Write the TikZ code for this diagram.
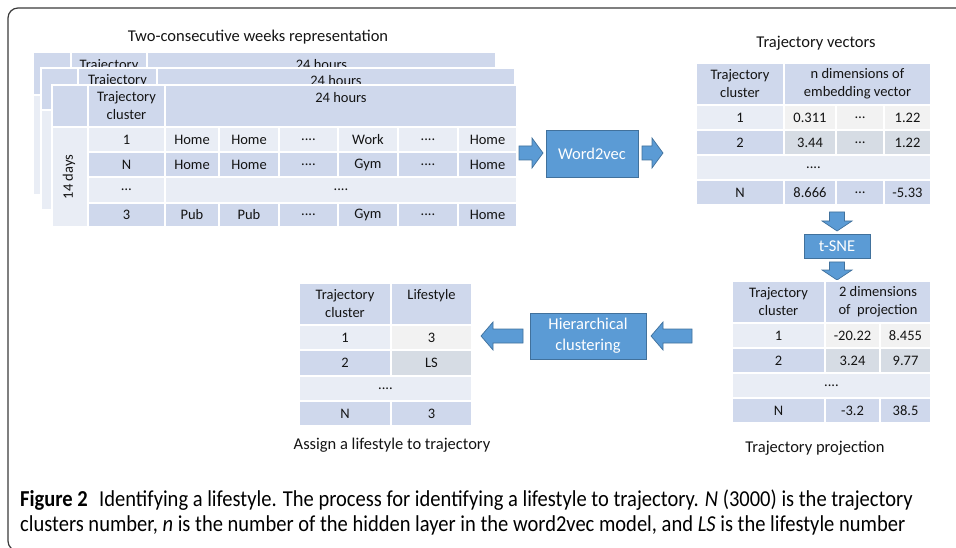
\documentclass[tikz,border=0pt]{standalone}
\usepackage{fontspec}
\setmainfont{Carlito}
\newfontfamily\capfont[FakeStretch=0.9]{Carlito}

\definecolor{bandD}{HTML}{CFD8EC}
\definecolor{bandL}{HTML}{E9EDF5}
\definecolor{grayL}{HTML}{F2F2F2}
\definecolor{grayD}{HTML}{D6DCE4}
\definecolor{boxblue}{HTML}{5B9BD5}
\definecolor{boxline}{HTML}{41719C}
\definecolor{ink}{HTML}{141414}
\definecolor{framec}{HTML}{3A3A3A}

\tikzset{
  celltext/.style={inner sep=0pt, align=center, text=ink,
    font=\fontsize{14.5}{18}\selectfont},
  titletext/.style={inner sep=0pt, text=ink, font=\fontsize{16.5}{20}\selectfont},
  procbox/.style={fill=boxblue, draw=boxline, line width=0.8pt},
  proctext/.style={inner sep=0pt, align=center, text=white,
    font=\fontsize{16.5}{21}\selectfont},
  blockarrow/.style={fill=boxblue, draw=boxline, line width=0.7pt, line join=miter},
  captext/.style={inner sep=0pt, anchor=base west, text=black,
    font=\capfont\fontsize{22.8}{26}\selectfont},
}

% table cell: name, fill, x1, y1, x2, y2, text (centred)
\newcommand\tcell[7]{%
  \filldraw[fill=#2, draw=white, line width=1.4pt] (#3,#4) rectangle (#5,#6);
  \node[celltext] (#1) at ({(#3+#5)/2},{(#4+#6)/2}) {#7};}
% table cell with its single line of text on the first line
\newcommand\tcelltop[7]{%
  \filldraw[fill=#2, draw=white, line width=1.4pt] (#3,#4) rectangle (#5,#6);
  \node[celltext] (#1) at ({(#3+#5)/2},{#4+12.5}) {#7};}

% block arrows: start, tip, centre line
\newcommand\arrowR[3]{%
  \filldraw[blockarrow] (#1,{#3-7}) -- ({#2-11},{#3-7}) -- ({#2-11},{#3-15}) -- (#2,#3)
    -- ({#2-11},{#3+15}) -- ({#2-11},{#3+7}) -- (#1,{#3+7}) -- cycle;}
\newcommand\arrowL[3]{%
  \filldraw[blockarrow] (#1,{#3-7}) -- ({#2+12},{#3-7}) -- ({#2+12},{#3-14}) -- (#2,#3)
    -- ({#2+12},{#3+14}) -- ({#2+12},{#3+7}) -- (#1,{#3+7}) -- cycle;}
\newcommand\arrowD[3]{%
  \filldraw[blockarrow] ({#3-7.5},#1) -- ({#3-7.5},{#2-10}) -- ({#3-15},{#2-10}) -- (#3,#2)
    -- ({#3+15},{#2-10}) -- ({#3+7.5},{#2-10}) -- ({#3+7.5},#1) -- cycle;}

% a stacked copy of the weekly table (header and blank body)
\newcommand\backtable[8]{% prefix, x1, x2, x3, x4, ytop, yhead, ybot
  \tcell{#1corner}{bandD}{#2}{#6}{#3}{#7}{}
  \tcell{#1clh}{bandD}{#3}{#6}{#4}{#7}{Trajectory\\cluster}
  \tcelltop{#1hrs}{bandD}{#4}{#6}{#5}{#7}{24 hours}
  \tcell{#1days}{bandL}{#2}{#7}{#3}{#8}{}
  \tcell{#1body}{bandL}{#3}{#7}{#5}{#8}{}}

\begin{document}
\begin{tikzpicture}[x=1pt, y=-1pt]
\useasboundingbox (0,0) rectangle (956,548);

% frame of the figure
\draw[framec, line width=1.2pt, rounded corners=10pt]
  (970,8) -- (8,8) -- (8,551) -- (40,551);

% ---------- two-consecutive weeks tables ----------
\node[titletext] (weekstitle) at (258,37) {Two-consecutive weeks representation};

\backtable{b}{33}{71}{147}{496}{52}{95}{195}
\backtable{m}{41}{78}{157}{515}{68}{110}{210}

% front table
\tcell{fcorner}{bandD}{52}{85}{88}{127}{}
\tcell{fclh}{bandD}{88}{85}{165}{127}{Trajectory\\cluster}
\tcelltop{fhrs}{bandD}{165}{85}{517}{127}{24 hours}
\filldraw[fill=bandL, draw=white, line width=1.4pt] (52,127) rectangle (88,227);
\node[celltext, rotate=90] (fdays) at (69,177) {14 days};

% row 1
\tcell{fa0}{bandL}{88}{127}{165}{152}{1}
\tcell{fa1}{bandL}{165}{127}{219}{152}{Home}
\tcell{fa2}{bandL}{219}{127}{279}{152}{Home}
\tcell{fa3}{bandL}{279}{127}{338}{152}{....}
\tcell{fa4}{bandL}{338}{127}{398}{152}{Work}
\tcell{fa5}{bandL}{398}{127}{458}{152}{....}
\tcell{fa6}{bandL}{458}{127}{517}{152}{Home}
% row 2
\tcell{fb0}{bandD}{88}{152}{165}{177}{N}
\tcell{fb1}{bandD}{165}{152}{219}{177}{Home}
\tcell{fb2}{bandD}{219}{152}{279}{177}{Home}
\tcell{fb3}{bandD}{279}{152}{338}{177}{....}
\tcell{fb4}{bandD}{338}{152}{398}{177}{Gym}
\tcell{fb5}{bandD}{398}{152}{458}{177}{....}
\tcell{fb6}{bandD}{458}{152}{517}{177}{Home}
% row 3
\tcell{fc0}{bandL}{88}{177}{165}{203}{…}
\tcell{fc1}{bandL}{165}{177}{517}{203}{....}
% row 4
\tcell{fd0}{bandD}{88}{203}{165}{227}{3}
\tcell{fd1}{bandD}{165}{203}{219}{227}{Pub}
\tcell{fd2}{bandD}{219}{203}{279}{227}{Pub}
\tcell{fd3}{bandD}{279}{203}{338}{227}{....}
\tcell{fd4}{bandD}{338}{203}{398}{227}{Gym}
\tcell{fd5}{bandD}{398}{203}{458}{227}{....}
\tcell{fd6}{bandD}{458}{203}{517}{227}{Home}

% ---------- word2vec ----------
\arrowR{519}{543}{153}
\filldraw[procbox] (546,130) rectangle (638,177);
\node[proctext] (w2v) at (592,153.5) {Word2vec};
\arrowR{642}{663}{153}

% ---------- trajectory vectors ----------
\node[titletext] (vectitle) at (816,43) {Trajectory vectors};
\tcell{vh0}{bandD}{696}{63}{784}{105}{Trajectory\\cluster}
\tcell{vh1}{bandD}{784}{63}{931}{105}{n dimensions of\\embedding vector}
\tcell{va0}{bandL}{696}{105}{784}{130}{1}
\tcell{va1}{grayL}{784}{105}{836}{130}{0.311}
\tcell{va2}{grayL}{836}{105}{884}{130}{…}
\tcell{va3}{grayL}{884}{105}{931}{130}{1.22}
\tcell{vb0}{bandD}{696}{130}{784}{155}{2}
\tcell{vb1}{grayD}{784}{130}{836}{155}{3.44}
\tcell{vb2}{grayD}{836}{130}{884}{155}{…}
\tcell{vb3}{grayD}{884}{130}{931}{155}{1.22}
\tcell{vc0}{bandL}{696}{155}{931}{180}{....}
\tcell{vd0}{bandD}{696}{180}{784}{205}{N}
\tcell{vd1}{bandD}{784}{180}{836}{205}{8.666}
\tcell{vd2}{bandD}{836}{180}{884}{205}{…}
\tcell{vd3}{bandD}{884}{180}{931}{205}{-5.33}

% ---------- t-SNE ----------
\arrowD{212}{231}{837}
\filldraw[procbox] (804,234) rectangle (870,258);
\node[proctext] (tsne) at (837,246) {t-SNE};
\arrowD{262}{280}{837}

% ---------- trajectory projection ----------
\tcell{ph0}{bandD}{732}{281}{825}{323}{Trajectory\\cluster}
\tcell{ph1}{bandD}{825}{281}{931}{323}{2 dimensions\\of~ projection}
\tcell{pa0}{bandL}{732}{323}{825}{348}{1}
\tcell{pa1}{grayL}{825}{323}{880}{348}{-20.22}
\tcell{pa2}{grayL}{880}{323}{931}{348}{8.455}
\tcell{pb0}{bandD}{732}{348}{825}{373}{2}
\tcell{pb1}{grayD}{825}{348}{880}{373}{3.24}
\tcell{pb2}{grayD}{880}{348}{931}{373}{9.77}
\tcell{pc0}{bandL}{732}{373}{931}{398}{....}
\tcell{pd0}{bandD}{732}{398}{825}{423}{N}
\tcell{pd1}{bandD}{825}{398}{880}{423}{-3.2}
\tcell{pd2}{bandD}{880}{398}{931}{423}{38.5}
\node[titletext] (projtitle) at (815,448) {Trajectory projection};

% ---------- hierarchical clustering ----------
\arrowL{692}{651}{336}
\filldraw[procbox] (530,313) rectangle (646,359);
\node[proctext] (hclust) at (588,336) {Hierarchical\\clustering};
\arrowL{523}{481}{336}

% ---------- lifestyle assignment ----------
\tcell{lh0}{bandD}{299}{283}{391}{325}{Trajectory\\cluster}
\tcelltop{lh1}{bandD}{391}{283}{472}{325}{Lifestyle}
\tcell{la0}{bandL}{299}{325}{391}{350}{1}
\tcell{la1}{grayL}{391}{325}{472}{350}{3}
\tcell{lb0}{bandD}{299}{350}{391}{376}{2}
\tcell{lb1}{grayD}{391}{350}{472}{376}{LS}
\tcell{lc0}{bandL}{299}{376}{472}{401}{....}
\tcell{ld0}{bandD}{299}{401}{391}{426}{N}
\tcell{ld1}{bandD}{391}{401}{472}{426}{3}
\node[titletext] (lstitle) at (392,445) {Assign a lifestyle to trajectory};

% ---------- caption ----------
\node[captext] (cap1) at (20,506) {\textbf{Figure 2}\hspace{0.5em}Identifying a lifestyle. The process for identifying a lifestyle to trajectory. \textit{N} (3000) is the trajectory};
\node[captext] (cap2) at (20,531) {clusters number, \textit{n} is the number of the hidden layer in the word2vec model, and \textit{LS} is the lifestyle number};
\end{tikzpicture}
\end{document}
